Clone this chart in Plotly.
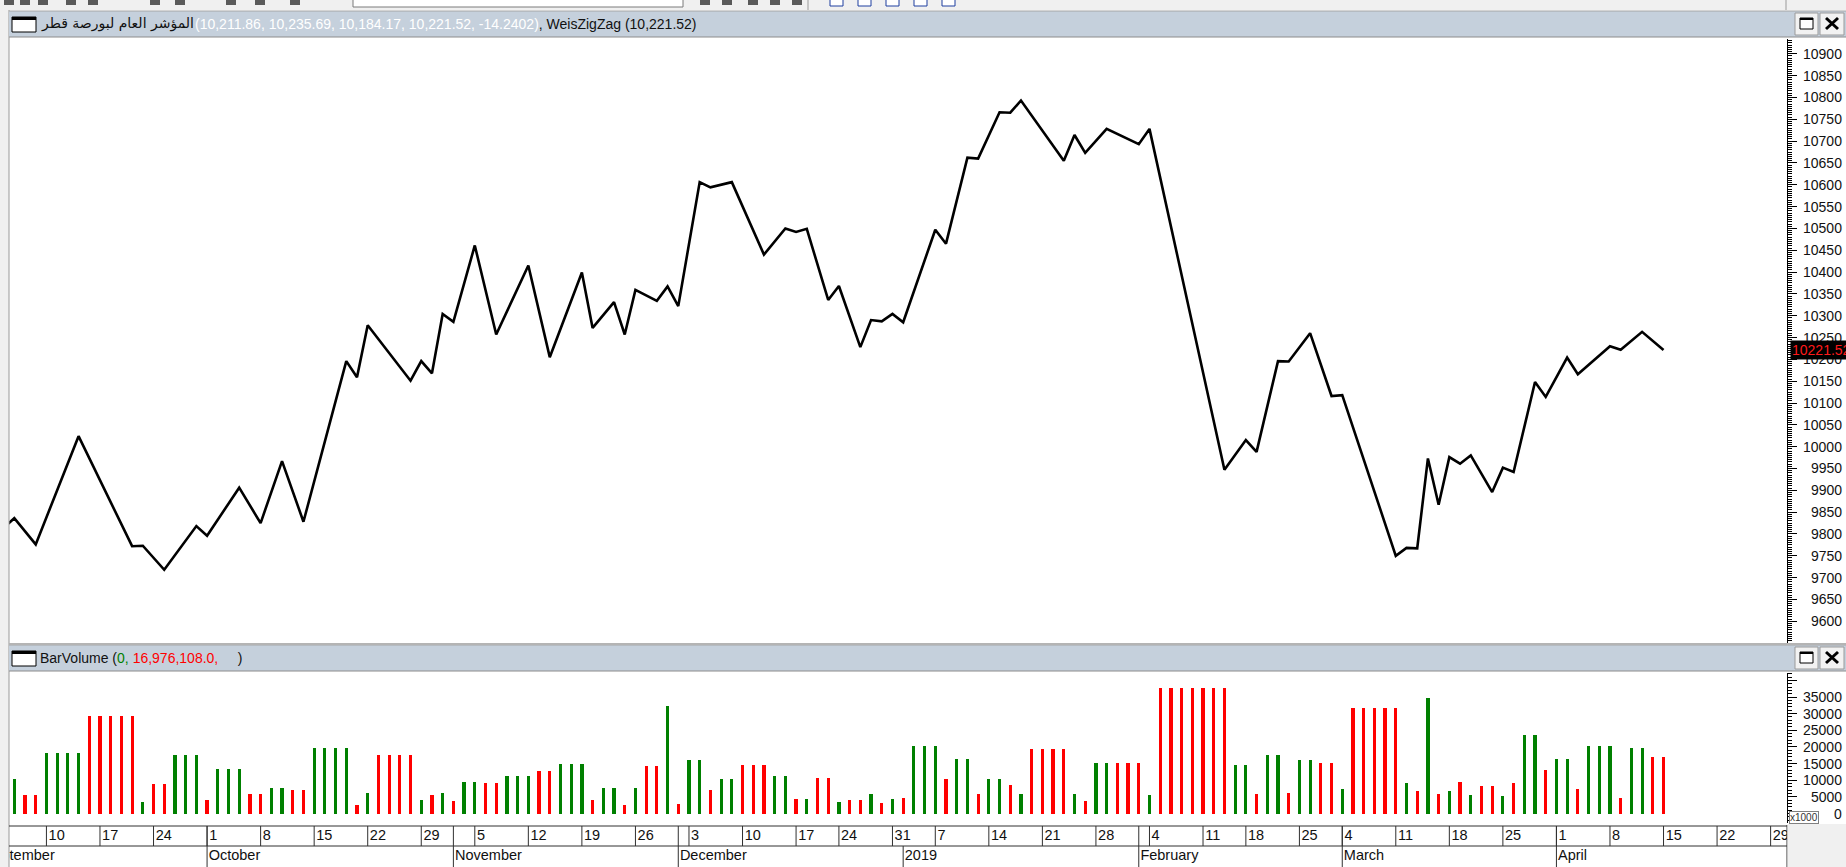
import pandas as pd
import plotly.graph_objects as go

W, H = 1846, 867

# ---------------- data ----------------
holidays = ["2018-12-18", "2019-01-01", "2019-02-12", "2019-03-03"]
trading_days = pd.bdate_range("2018-09-02", "2019-04-30", freq="C",
                              weekmask="Sun Mon Tue Wed Thu", holidays=holidays)

zigzag_dates = [
    "2018-09-04", "2018-09-05", "2018-09-09", "2018-09-13", "2018-09-20", "2018-09-23",
    "2018-09-25", "2018-09-30", "2018-10-01", "2018-10-04", "2018-10-08", "2018-10-10",
    "2018-10-14", "2018-10-18", "2018-10-21", "2018-10-22", "2018-10-28", "2018-10-29",
    "2018-10-30", "2018-10-31", "2018-11-01", "2018-11-05", "2018-11-07", "2018-11-12",
    "2018-11-14", "2018-11-19", "2018-11-20", "2018-11-22", "2018-11-25", "2018-11-26",
    "2018-11-28", "2018-11-29", "2018-12-02", "2018-12-04", "2018-12-05", "2018-12-09",
    "2018-12-12", "2018-12-16", "2018-12-17", "2018-12-19", "2018-12-23", "2018-12-24",
    "2018-12-26", "2018-12-27", "2018-12-30", "2018-12-31", "2019-01-02", "2019-01-07",
    "2019-01-08", "2019-01-10", "2019-01-13", "2019-01-15", "2019-01-16", "2019-01-17",
    "2019-01-23", "2019-01-24", "2019-01-27", "2019-01-29", "2019-02-03", "2019-02-04",
    "2019-02-14", "2019-02-18", "2019-02-19", "2019-02-21", "2019-02-24", "2019-02-26",
    "2019-02-28", "2019-03-04", "2019-03-11", "2019-03-12", "2019-03-13", "2019-03-14",
    "2019-03-17", "2019-03-18", "2019-03-19", "2019-03-20", "2019-03-24", "2019-03-25",
    "2019-03-26", "2019-03-28", "2019-03-31", "2019-04-02", "2019-04-03", "2019-04-08",
    "2019-04-09", "2019-04-11", "2019-04-15"]
zigzag_values = [
    9814, 9836, 9776, 10024, 9772, 9773, 9718, 9818, 9796, 9906, 9825, 9967, 9828,
    10196, 10159, 10278, 10151, 10196, 10168, 10304, 10286, 10461, 10257, 10415, 10205,
    10399, 10272, 10331, 10257, 10359, 10334, 10367, 10322, 10606, 10594, 10606, 10440,
    10500, 10492, 10499, 10336, 10368, 10228, 10290, 10287, 10304, 10285, 10497, 10465,
    10662, 10660, 10766, 10765, 10793, 10655, 10714, 10673, 10728, 10693, 10728, 9947,
    10015, 9988, 10196, 10195, 10260, 10116, 10118, 9750, 9768, 9767, 9973, 9867, 9976,
    9961, 9980, 9896, 9952, 9942, 10148, 10114, 10204, 10166, 10230, 10222, 10263, 10221.52]

volume_first_day = "2018-09-05"
bar_volume = [  # x1000
    10500, 5500, 5500, 18200, 18200, 18200, 18200, 29200, 29200, 29200, 29200, 29200,
    3600, 9000, 9000, 17500, 17500, 17500, 4000, 13500, 13500, 13500, 6000, 6000,
    7800, 7800, 7000, 7000, 19800, 19800, 19800, 19800, 2700, 6300, 17500, 17500, 17500, 17500,
    4000, 5500, 6300, 3700, 9600, 9600, 9200, 9200, 11200, 11200, 11200, 12700, 12700,
    14800, 14800, 14800, 4000, 7800, 7800, 2600, 7800, 14200, 14200, 32200, 2800,
    16000, 16000, 7000, 10400, 10400, 14500, 14500, 14500, 11200, 11200, 4300, 4300,
    10800, 10800, 3600, 4000, 4000, 6000, 3300, 4400, 4800, 20400, 20400, 20400,
    10500, 16500, 16500, 6000, 10500, 10500, 8500, 6000, 19500, 19500, 19500, 19500,
    6000, 3700, 15300, 15300, 15300, 15300, 15300, 5600,
    37800, 37800, 37800, 37800, 37800, 37800, 37800,
    14500, 14500, 6000, 17500, 17500, 6300, 16000, 16000, 15300, 15300, 7500,
    31700, 31700, 31700, 31700, 31700,
    9200, 6700, 34800, 6000, 6700, 9600, 5500, 8300, 8300, 5200, 9200,
    23500, 23500, 13000, 16400, 16400, 7400, 20200, 20200, 20200, 4800, 19800, 19800,
    16976, 16976]
bar_direction = ("GRRGGGGRRRRR" "GRRGGGRGGGRR" "GGRRGGGGRGRRRR" "GRGRGGRRGGGRR"
                 "GGGRGGRGRRGR" "GGRGGRRRGGRG" "RRGRRGRGRGGG" "RGGRGGRGRRRR"
                 "GRGGRRRG" "RRRRRRR" "GGRGGRGGRRG" "RRRRR" "GRGRGRGRRGR"
                 "GGRGGRGGGRGGRR")

last_close = 10221.52
index_name = "المؤشر العام لبورصة قطر"
header_values = "(10,211.86, 10,235.69, 10,184.17, 10,221.52, -14.2402)"
header_zigzag = ", WeisZigZag (10,221.52)"
price_ticks = list(range(9600, 10901, 50))
volume_ticks = list(range(0, 35001, 5000))

# ---------------- helpers ----------------
pos = {d.strftime("%Y-%m-%d"): i for i, d in enumerate(trading_days)}
line_x = [pos[d] for d in zigzag_dates]
v0 = pos[volume_first_day]
bar_x = list(range(v0, v0 + len(bar_volume)))
bar_col = ["#008000" if c == "G" else "#ff0000" for c in bar_direction]

def px(x):
    return x / W

def py(y):
    return 1 - y / H

PL, PR = 9, 1787
TOP_T, TOP_B = 39, 643
VOL_T, VOL_B = 673, 823
XR = [2.505, 168.53]
FONT = "Liberation Sans, Arial, sans-serif"

fig = go.Figure()

fig.add_trace(go.Scatter(x=line_x, y=zigzag_values, mode="lines",
                         line=dict(color="black", width=2.6), xaxis="x", yaxis="y",
                         hoverinfo="skip"))
fig.add_trace(go.Bar(x=bar_x, y=bar_volume, marker=dict(color=bar_col, line=dict(width=0)),
                     width=0.3, xaxis="x2", yaxis="y2", hoverinfo="skip"))

# date axis rows (third subplot, clipped)
mondays = [i for i, d in enumerate(trading_days) if d.weekday() == 0]
month_starts = [i for i, d in enumerate(trading_days)
                if i == 0 or d.month != trading_days[i - 1].month]
month_text = [str(trading_days[i].year) if trading_days[i].month == 1
              else trading_days[i].strftime("%B") for i in month_starts]

wx, wy = [], []
for m in mondays:
    wx += [m, m, None]
    wy += [21, 41, None]
for b in month_starts:
    prev_mon = max([m for m in mondays if m <= b], default=-99)
    top = 21 if 0 < b - prev_mon < 2 else 41
    wx += [b, b, None]
    wy += [0, top, None]
fig.add_trace(go.Scatter(x=wx, y=wy, mode="lines", line=dict(color="#303030", width=1),
                         xaxis="x3", yaxis="y3", hoverinfo="skip"))
fig.add_trace(go.Scatter(x=[m + 0.2 for m in mondays], y=[31] * len(mondays),
                         text=[str(trading_days[m].day) for m in mondays],
                         mode="text", textposition="middle right",
                         textfont=dict(family=FONT, size=14.5, color="#101010"),
                         xaxis="x3", yaxis="y3", hoverinfo="skip"))
fig.add_trace(go.Scatter(x=[b + 0.15 for b in month_starts], y=[10.5] * len(month_starts),
                         text=month_text, mode="text", textposition="middle right",
                         textfont=dict(family=FONT, size=14.5, color="#101010"),
                         xaxis="x3", yaxis="y3", hoverinfo="skip"))

shapes = []
def rect(x0, y0, x1, y1, fill, line=None, lw=1):
    shapes.append(dict(type="rect", xref="paper", yref="paper",
                       x0=px(x0), x1=px(x1), y0=py(y1), y1=py(y0),
                       fillcolor=fill, line=dict(color=line or fill, width=lw if line else 0),
                       layer="above"))

def hline(x0, x1, y, color, w=1):
    shapes.append(dict(type="line", xref="paper", yref="paper", x0=px(x0), x1=px(x1),
                       y0=py(y), y1=py(y), line=dict(color=color, width=w), layer="above"))

def vline(x, y0, y1, color, w=1):
    shapes.append(dict(type="line", xref="paper", yref="paper", x0=px(x), x1=px(x),
                       y0=py(y0), y1=py(y1), line=dict(color=color, width=w), layer="above"))

# toolbar strip
rect(0, 0, W, 10, "#f0f0f0")
rect(353, -2, 683, 7, "#ffffff", "#7a7a7a")
for x0 in [4, 20, 38, 66, 88, 150, 175, 226, 255, 290, 700, 722, 748, 770, 792]:
    rect(x0, 0, x0 + 10, 5, "#5a5a5a")
for x0 in [830, 858, 886, 914, 942]:
    rect(x0, -2, x0 + 13, 6, "#ffffff", "#1f3f9f")
vline(808, 0, 10, "#9a9a9a")
vline(1786, 0, 10, "#9a9a9a")
# left strip
rect(0, 10, PL, H, "#f0f0f0")
vline(PL, 10, H, "#9a9a9a")

# headers
for (t, b) in [(11, 37), (645, 671)]:
    rect(PL, t, W, b, "#c5d0dc")
    hline(PL, W, t, "#a6a6a6")
    hline(PL, W, b, "#8c8c8c")
    # window icon
    rect(12, t + 6, 36, t + 21, "#ffffff", "#000000", 1)
    rect(12, t + 6, 36, t + 9, "#000000")
    # buttons
    rect(1795, t + 2, 1818, b - 2, "#f2f2f2", "#9a9a9a")
    rect(1820, t + 2, 1844, b - 2, "#f2f2f2", "#9a9a9a")
    rect(1800, t + 7, 1813, b - 8, "#ffffff", "#000000", 1)
    rect(1800, t + 7, 1813, t + 9, "#000000")
    shapes.append(dict(type="line", xref="paper", yref="paper", x0=px(1826), x1=px(1838),
                       y0=py(t + 7), y1=py(b - 8), line=dict(color="black", width=3)))
    shapes.append(dict(type="line", xref="paper", yref="paper", x0=px(1826), x1=px(1838),
                       y0=py(b - 8), y1=py(t + 7), line=dict(color="black", width=3)))

# separator between panels
rect(PL, 643, W, 645, "#b4b4b4")
# date rows frame
hline(PL, PR, 826, "#303030")
hline(PL, PR, 846, "#303030")
vline(PR, 825, H, "#303030")
rect(PR + 0.5, 824, W, H, "#f0f0f0")

annotations = []
def note(x, y, text, size=14, color="#111111", xanchor="left", yref="paper",
         family=FONT, **kw):
    annotations.append(dict(x=px(x), y=(py(y) if yref == "paper" else y), xref="paper",
                            yref=yref, text=text, showarrow=False, xanchor=xanchor,
                            yanchor="middle", font=dict(family=family, size=size, color=color),
                            **kw))

note(39, 24, index_name, size=14, family="DejaVu Sans, sans-serif")
note(193, 24, f"<span style='color:#ffffff'>{header_values}</span>{header_zigzag}")
note(38, 658, "BarVolume (<span style='color:#008000'>0, </span>"
     "<span style='color:#ff0000'>16,976,108.0,</span>\u00a0\u00a0\u00a0\u00a0\u00a0)")

for v in price_ticks:
    note(1844, v, str(v), yref="y", xanchor="right")
for v in volume_ticks:
    note(1844, v, str(v), yref="y2", xanchor="right")

note(1790, last_close, f"{last_close:.2f}", size=14, color="#ff1a1a", yref="y",
     bgcolor="#000000", borderpad=1)
note(1789, 817, "x1000", size=10, color="#333333", bgcolor="#ffffff",
     bordercolor="#808080", borderwidth=1, borderpad=0)

fig.update_layout(
    width=W, height=H, margin=dict(l=0, r=0, t=0, b=0),
    paper_bgcolor="#ffffff", plot_bgcolor="#ffffff", showlegend=False,
    bargap=0,
    xaxis=dict(domain=[px(PL), px(PR)], range=XR, visible=False, anchor="y"),
    yaxis=dict(domain=[py(TOP_B), py(TOP_T)], range=[9550.2, 10933.9], side="right",
               anchor="x", tick0=0, dtick=50, ticks="outside", ticklen=9, tickwidth=1,
               tickcolor="black", showticklabels=False, showline=True, linecolor="black",
               linewidth=1, showgrid=False, zeroline=False,
               minor=dict(ticks="outside", ticklen=4, tick0=0, dtick=5, tickcolor="black",
                          tickwidth=1, showgrid=False)),
    xaxis2=dict(domain=[px(PL), px(PR)], range=XR, visible=False, anchor="y2"),
    yaxis2=dict(domain=[py(VOL_B), py(VOL_T)], range=[-2854, 42210], side="right",
                anchor="x2", tick0=0, dtick=5000, ticks="outside", ticklen=9, tickwidth=1,
                tickcolor="black", showticklabels=False, showline=True, linecolor="black",
                linewidth=1, showgrid=False, zeroline=False,
                minor=dict(ticks="outside", ticklen=4, tick0=0, dtick=1000,
                           tickcolor="black", tickwidth=1, showgrid=False)),
    xaxis3=dict(domain=[px(PL), px(PR)], range=XR, visible=False, anchor="y3"),
    yaxis3=dict(domain=[0, 42 / H], range=[0, 42], visible=False, anchor="x3"),
    shapes=shapes, annotations=annotations,
)

fig.write_html("out.html", config={"displayModeBar": False, "staticPlot": True},
               post_script="document.body.style.margin='0px';document.body.style.overflow='hidden';")
